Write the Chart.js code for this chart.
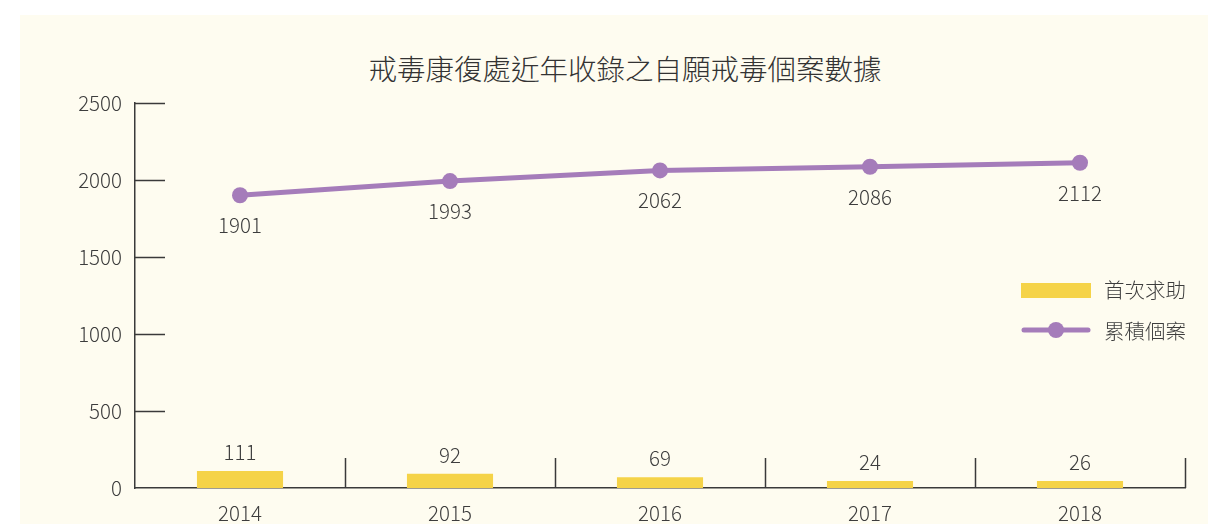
<!DOCTYPE html>
<html>
<head>
<meta charset="utf-8">
<script src="https://cdn.jsdelivr.net/npm/chart.js@4"></script>
<style>
  html, body { margin: 0; padding: 0; background: #ffffff; }
  #wrap { position: relative; width: 1208px; height: 524px; overflow: hidden; }
  #card { position: absolute; left: 20px; top: 15px; right: 0; bottom: -20px; background: #fefcf0; }
  #title { position: absolute; left: 0; width: 1250px; top: 48px; text-align: center;
           font-family: "Noto Sans CJK TC", sans-serif; font-size: 28.5px; line-height: 40px; color: #333; font-weight: 300; }
  canvas { position: absolute; left: 0; top: 0; }
</style>
</head>
<body>
<div id="wrap">
  <div id="card"></div>
  <div id="title">戒毒康復處近年收錄之自願戒毒個案數據</div>
  <canvas id="chart" width="1208" height="524"></canvas>
</div>
<script>
// 年份 / 數據
const years = ['2014', '2015', '2016', '2017', '2018'];
const firstTimeCases = [111, 92, 69, 24, 26];
const cumulativeCases = [1901, 1993, 2062, 2086, 2112];
const yTicks = [0, 500, 1000, 1500, 2000, 2500];

const labelFont = '"Noto Sans CJK TC", sans-serif';
const textColor = '#3d3d3d';
const axisColor = '#3a3a3a';
const barColor = '#f5d348';
const lineColor = '#a57cba';

// inside tick marks, value labels and legend
const decorPlugin = {
    id: 'decor',
    afterDatasetsDraw(chart) {
        const ctx = chart.ctx;
        const xs = chart.scales.x;
        const ys = chart.scales.y;
        const area = chart.chartArea;

        ctx.save();
        ctx.strokeStyle = axisColor;
        ctx.lineWidth = 1.5;
        // y ticks pointing into the plot
        yTicks.forEach(v => {
            if (v === 0) return;
            const y = Math.round(ys.getPixelForValue(v)) + 0.5;
            ctx.beginPath();
            ctx.moveTo(area.left, y);
            ctx.lineTo(area.left + 30, y);
            ctx.stroke();
        });
        // x category separators
        for (let i = 1; i <= years.length; i++) {
            const x = Math.round(xs.getPixelForValue(i - 0.5)) + 0.5;
            ctx.beginPath();
            ctx.moveTo(x, area.bottom);
            ctx.lineTo(x, area.bottom - 30);
            ctx.stroke();
        }

        // value labels
        ctx.fillStyle = textColor;
        ctx.font = '300 20.5px ' + labelFont;
        ctx.textAlign = 'center';
        ctx.textBaseline = 'middle';
        chart.getDatasetMeta(0).data.forEach((bar, i) => {
            ctx.fillText(String(firstTimeCases[i]), bar.x, bar.y - 19);
        });
        chart.getDatasetMeta(1).data.forEach((pt, i) => {
            ctx.fillText(String(cumulativeCases[i]), pt.x, pt.y + 30);
        });

        // legend
        ctx.fillStyle = barColor;
        ctx.fillRect(1021, 283, 70, 15);
        ctx.strokeStyle = lineColor;
        ctx.lineWidth = 5;
        ctx.lineCap = 'round';
        ctx.beginPath();
        ctx.moveTo(1024, 330);
        ctx.lineTo(1088, 330);
        ctx.stroke();
        ctx.fillStyle = lineColor;
        ctx.beginPath();
        ctx.arc(1056, 330, 8, 0, Math.PI * 2);
        ctx.fill();
        ctx.fillStyle = textColor;
        ctx.textAlign = 'left';
        ctx.font = '300 20.5px ' + labelFont;
        ctx.fillText('首次求助', 1104, 290);
        ctx.fillText('累積個案', 1104, 331);
        ctx.restore();
    }
};

new Chart(document.getElementById('chart'), {
    type: 'bar',
    data: {
        labels: years,
        datasets: [
            {
                type: 'bar',
                label: '首次求助',
                data: firstTimeCases,
                backgroundColor: barColor,
                barPercentage: 0.41,
                categoryPercentage: 1,
                minBarLength: 7,
                order: 2
            },
            {
                type: 'line',
                label: '累積個案',
                data: cumulativeCases,
                borderColor: lineColor,
                backgroundColor: lineColor,
                borderWidth: 5,
                pointRadius: 8,
                pointBackgroundColor: lineColor,
                pointBorderWidth: 0,
                tension: 0,
                order: 1
            }
        ]
    },
    options: {
        responsive: false,
        animation: false,
        layout: { padding: { left: 0, right: 23, top: 103, bottom: 0 } },
        plugins: {
            legend: { display: false },
            tooltip: { enabled: false },
            title: { display: false }
        },
        scales: {
            x: {
                offset: true,
                grid: { display: false, drawTicks: false },
                border: { display: true, color: axisColor, width: 1.5 },
                ticks: { color: textColor, padding: 13, font: { family: labelFont, size: 20.5, weight: 300 } },
                afterFit(scale) { scale.height = 36; }
            },
            y: {
                min: 0,
                max: 2500,
                afterBuildTicks(scale) { scale.ticks = yTicks.map(v => ({ value: v })); },
                grid: { display: false, drawTicks: false },
                border: { display: true, color: axisColor, width: 1.5 },
                ticks: {
                    color: textColor, padding: 13,
                    font: { family: labelFont, size: 20.5, weight: 300 },
                    callback: v => String(v)
                },
                afterFit(scale) { scale.width = 135; }
            }
        }
    },
    plugins: [decorPlugin]
});
</script>
</body>
</html>
